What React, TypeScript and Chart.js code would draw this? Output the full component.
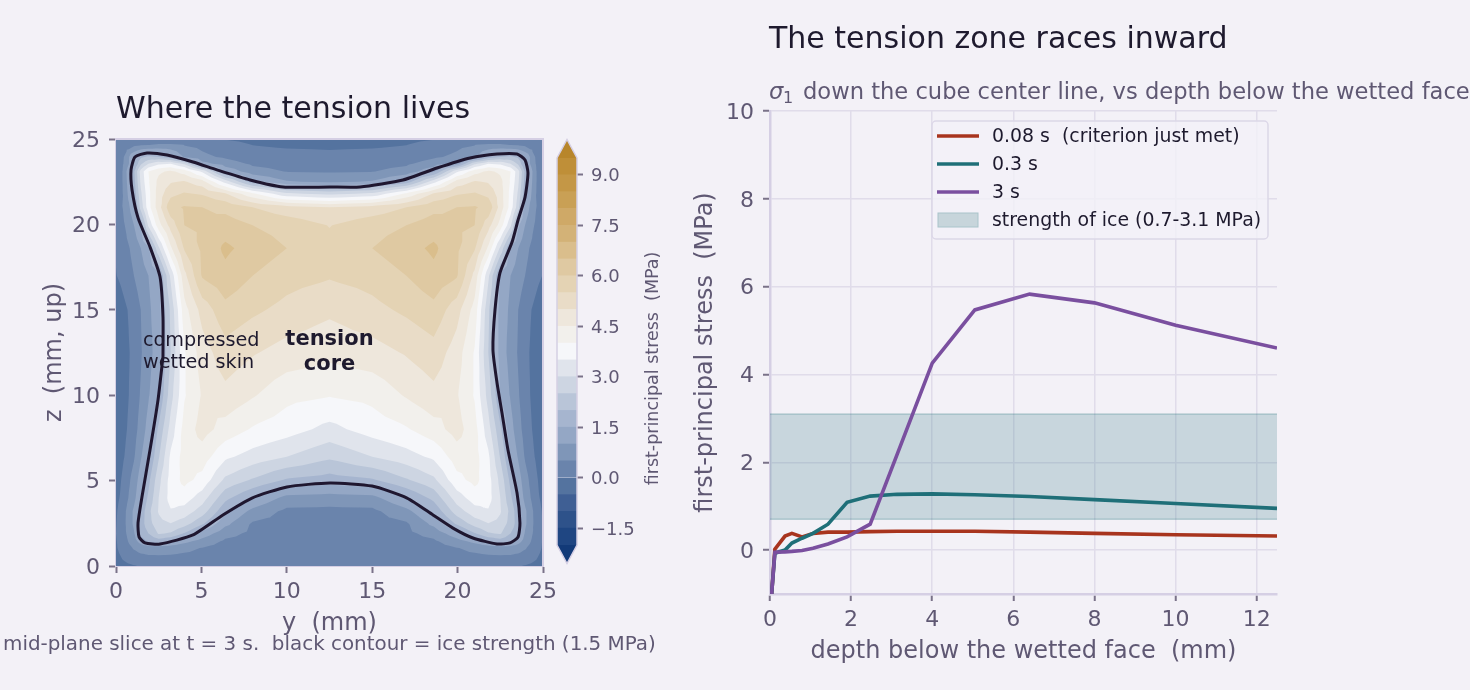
import React, { useEffect, useRef } from 'react';
import { Chart, registerables } from 'chart.js';

Chart.register(...registerables);

const FONT = '"DejaVu Sans"';
const BG = '#f3f1f7';
const INK = '#1e1a2e';
const MUTED = '#5f5873';
const TICK = '#7a7289';
const SPINE = '#d5cfe4';
const GRID = '#e0dcea';

// contour field, y = 0..12.5 half of the slice (it is mirrored about y = 12.5)
const FIELD_Y = [0, 0.3, 1.05, 1.45, 1.9, 2.5, 3.2, 4, 5.05, 6.4, 8, 10, 12.5];
const FIELD_Z = [0, 0.3, 1.05, 1.45, 1.9, 2.5, 3.2, 4, 5.05, 6.4, 8, 10, 12.5, 15, 17, 18.6, 19.95, 21, 21.8, 22.5, 23.1, 23.55, 23.95, 24.7, 25];
const FIELD = [
  [-0.2, -0.1, -0.03, 0.03, 0.1, 0.15, 0.2, 0.22, 0.22, 0.22, 0.22, 0.22, 0.22],
  [-0.15, -0.05, 0.15, 0.22, 0.28, 0.3, 0.3, 0.3, 0.28, 0.26, 0.25, 0.25, 0.25],
  [-0.05, 0.12, 0.55, 0.7, 0.75, 0.75, 0.72, 0.62, 0.48, 0.33, 0.28, 0.27, 0.27],
  [-0.03, 0.15, 0.8, 1.2, 1.6, 1.75, 1.5, 1.15, 0.8, 0.42, 0.32, 0.28, 0.28],
  [0, 0.2, 0.95, 1.7, 2.0, 2.55, 2.45, 1.95, 1.3, 0.68, 0.38, 0.31, 0.29],
  [-0.02, 0.18, 1.1, 1.75, 2.3, 2.85, 3.0, 2.75, 2.1, 1.15, 0.45, 0.34, 0.31],
  [-0.05, 0.15, 1.1, 1.65, 2.35, 3.05, 3.45, 3.3, 2.75, 1.6, 0.85, 0.38, 0.36],
  [-0.1, 0.05, 0.85, 1.45, 2.1, 3.0, 3.7, 3.75, 3.25, 2.15, 1.5, 0.85, 0.78],
  [-0.2, 0, 0.7, 1.25, 1.85, 2.85, 3.7, 4.15, 3.85, 2.9, 2.45, 1.95, 1.78],
  [-0.3, -0.15, 0.45, 0.95, 1.45, 2.45, 3.6, 4.2, 4.25, 3.6, 3.3, 3.0, 2.6],
  [-0.4, -0.25, 0.3, 0.7, 1.2, 2.1, 3.2, 4.2, 4.7, 4.3, 3.95, 3.72, 3.35],
  [-0.45, -0.3, 0.2, 0.55, 0.95, 1.5, 2.8, 3.95, 4.55, 4.85, 4.55, 4.15, 4.03],
  [-0.45, -0.3, 0.15, 0.45, 0.8, 1.3, 2.5, 3.95, 4.75, 5.3, 5.05, 4.8, 4.65],
  [-0.35, -0.2, 0.2, 0.5, 0.9, 1.3, 2.6, 4.3, 5.2, 5.85, 5.6, 5.35, 5.1],
  [-0.02, 0.1, 0.5, 0.75, 1.0, 1.4, 3.1, 4.85, 6.05, 6.35, 6.0, 5.7, 5.55],
  [0.05, 0.2, 0.65, 1.0, 1.45, 2.9, 4.4, 5.55, 6.1, 6.6, 6.3, 6.0, 5.65],
  [0.08, 0.3, 1.0, 1.6, 3.1, 4.3, 5.2, 6.0, 6.1, 6.25, 6.0, 5.8, 5.48],
  [0.12, 0.4, 1.3, 2.7, 3.8, 4.8, 5.85, 6.05, 6.0, 5.85, 5.5, 5.2, 5.0],
  [0.18, 0.33, 1.65, 2.9, 3.85, 4.75, 5.35, 5.55, 5.45, 5.05, 4.1, 3.1, 2.85],
  [0.15, 0.35, 1.8, 3.1, 3.95, 4.65, 4.95, 5.05, 4.7, 3.3, 1.7, 1.05, 0.9],
  [0.15, 0.35, 1.9, 3.2, 4.0, 4.4, 4.6, 4.3, 3.4, 1.4, 0.7, 0.48, 0.45],
  [0.14, 0.3, 1.45, 2.4, 3.0, 3.4, 3.5, 2.9, 1.2, 0.75, 0.42, 0.33, 0.3],
  [0.12, 0.25, 1.45, 1.9, 2.1, 2.0, 1.7, 0.95, 0.62, 0.42, 0.2, 0.15, 0.12],
  [0.1, 0.18, 0.3, 0.35, 0.4, 0.5, 0.5, 0.45, 0.35, 0.12, -0.02, -0.08, -0.1],
  [0.05, 0.1, 0.2, 0.25, 0.28, 0.32, 0.3, 0.28, 0.1, -0.02, -0.08, -0.12, -0.15],
];

const LEVELS = [-2, -1.5, -1, -0.5, 0, 0.5, 1, 1.5, 2, 2.5, 3, 3.5, 4, 4.5, 5, 5.5, 6, 6.5, 7, 7.5, 8, 8.5, 9, 9.5];
const BAND_COLORS = [
  '#1f4682', '#2e528a', '#3f5f94', '#54739f', '#6a84ac', '#7f96b8', '#94a7c5', '#a6b5cf',
  '#b9c5d8', '#cdd5e2', '#e0e4ec', '#f6f7fa', '#f2f0ec', '#eee7dc', '#e9dcc7', '#e4d3b4',
  '#dfc9a2', '#dabe8c', '#d3b277', '#cfa967', '#c9a055', '#c49746', '#bf8f38',
];
const UNDER_COLOR = '#123a78';
const OVER_COLOR = '#b8862b';
const CBAR_TICKS = [-1.5, 0, 1.5, 3, 4.5, 6, 7.5, 9];

// the black 1.5 MPa line, y then z in mm
const STRENGTH_Y = [2.75, 2.75, 2.58, 1.99, 1.29, 0.94, 0.88, 1.11, 1.82, 2.99, 4.51, 5.91, 7.85, 9.78, 12.53, 14.29, 16.8, 18.79, 20.73, 22.31, 23.48, 23.95, 24.12, 23.95, 23.54, 23.19, 22.48, 22.19, 22.07, 22.31, 22.6, 22.95, 23.48, 23.65, 23.54, 23.07, 22.31, 20.9, 19.73, 18.56, 17.04, 14.99, 12.53, 10.01, 7.96, 6.26, 4.51, 2.58, 1.7, 1.35, 1.29, 1.52, 1.99, 2.46, 2.75];
const STRENGTH_Z = [12.24, 14.58, 16.92, 18.68, 20.38, 22.01, 23.19, 23.95, 24.18, 24.06, 23.65, 23.19, 22.6, 22.19, 22.19, 22.19, 22.6, 23.3, 23.89, 24.12, 24.12, 23.77, 23.01, 21.6, 20.26, 18.97, 17.16, 14.99, 12.65, 10.71, 8.96, 6.79, 4.27, 2.52, 1.7, 1.35, 1.29, 1.64, 2.22, 2.99, 3.98, 4.68, 4.86, 4.63, 3.98, 2.99, 1.82, 1.29, 1.35, 1.7, 2.52, 4.04, 6.79, 9.72, 12.24];

// right panel, depth in mm and stress in MPa
const DEPTH = [0.04, 0.12, 0.37, 0.54, 0.79, 1.06, 1.43, 1.9, 2.47, 3.13, 4, 5.05, 6.4, 8, 10, 12.5];
const STRESS_008 = [-1, 0.02, 0.32, 0.38, 0.3, 0.38, 0.41, 0.41, 0.42, 0.43, 0.43, 0.43, 0.41, 0.38, 0.35, 0.32];
const STRESS_03 = [-1, -0.07, 0, 0.16, 0.27, 0.38, 0.59, 1.09, 1.23, 1.27, 1.28, 1.26, 1.22, 1.15, 1.06, 0.95];
const STRESS_3 = [-1, -0.05, -0.04, -0.03, -0.01, 0.04, 0.14, 0.3, 0.59, 2.17, 4.26, 5.47, 5.83, 5.63, 5.12, 4.6];
const STRENGTH_LOW = 0.7;
const STRENGTH_HIGH = 3.1;
const DEPTH_RANGE = [0, 12.5];

const RED = '#a8341e';
const TEAL = '#1f6f78';
const PURPLE = '#7a4f9f';

const LEGEND_ITEMS = [
  { label: '0.08 s  (criterion just met)', color: RED },
  { label: '0.3 s', color: TEAL },
  { label: '3 s', color: PURPLE },
  { label: 'strength of ice (0.7-3.1 MPa)', color: null },
];

type V = [number, number, number];

function clipAbove(poly: V[], level: number): V[] {
  const out: V[] = [];
  for (let i = 0; i < poly.length; i++) {
    const a = poly[i];
    const b = poly[(i + 1) % poly.length];
    if (a[2] >= level) out.push(a);
    if (a[2] >= level !== b[2] >= level) {
      const t = (level - a[2]) / (b[2] - a[2]);
      out.push([a[0] + (b[0] - a[0]) * t, a[1] + (b[1] - a[1]) * t, level]);
    }
  }
  return out;
}

// filled contour bands, painted low to high through the chart's own scales
const contourPlugin = {
  id: 'contourBands',
  beforeDatasetsDraw(chart: any) {
    const { ctx, chartArea, scales } = chart;
    const ys = FIELD_Y.concat(FIELD_Y.slice(0, -1).reverse().map((v) => 25 - v));
    const px = ys.map((v) => scales.x.getPixelForValue(v));
    const py = FIELD_Z.map((v) => scales.y.getPixelForValue(v));
    const rows = FIELD.map((r) => r.concat(r.slice(0, -1).reverse()));
    ctx.save();
    ctx.beginPath();
    ctx.rect(chartArea.left, chartArea.top, chartArea.width, chartArea.height);
    ctx.clip();
    BAND_COLORS.forEach((color, k) => {
      const level = LEVELS[k];
      ctx.beginPath();
      for (let j = 0; j < py.length - 1; j++) {
        for (let i = 0; i < px.length - 1; i++) {
          const a: V = [px[i], py[j], rows[j][i]];
          const b: V = [px[i + 1], py[j], rows[j][i + 1]];
          const c: V = [px[i + 1], py[j + 1], rows[j + 1][i + 1]];
          const d: V = [px[i], py[j + 1], rows[j + 1][i]];
          const m: V = [(a[0] + c[0]) / 2, (a[1] + c[1]) / 2, (a[2] + b[2] + c[2] + d[2]) / 4];
          [[a, b], [b, c], [c, d], [d, a]].forEach(([p, q]) => {
            const poly = clipAbove([p, q, m], level);
            if (poly.length < 3) return;
            ctx.moveTo(poly[0][0], poly[0][1]);
            poly.slice(1).forEach((v) => ctx.lineTo(v[0], v[1]));
            ctx.closePath();
          });
        }
      }
      ctx.fillStyle = color;
      ctx.fill();
    });
    ctx.restore();
  },
  afterDatasetsDraw(chart: any) {
    const { ctx, chartArea, scales } = chart;
    ctx.save();
    ctx.strokeStyle = SPINE;
    ctx.lineWidth = 2;
    ctx.beginPath();
    ctx.moveTo(chartArea.left, chartArea.top);
    ctx.lineTo(chartArea.right, chartArea.top);
    ctx.lineTo(chartArea.right, chartArea.bottom);
    ctx.stroke();
    ctx.fillStyle = INK;
    ctx.font = `19.2px ${FONT}`;
    ctx.fillText('compressed', scales.x.getPixelForValue(1.58), scales.y.getPixelForValue(12.9));
    ctx.fillText('wetted skin', scales.x.getPixelForValue(1.58), scales.y.getPixelForValue(11.6));
    ctx.font = `bold 21px ${FONT}`;
    ctx.textAlign = 'center';
    ctx.fillText('tension', scales.x.getPixelForValue(12.5), scales.y.getPixelForValue(12.95));
    ctx.fillText('core', scales.x.getPixelForValue(12.5), scales.y.getPixelForValue(11.5));
    ctx.textAlign = 'left';
    ctx.fillStyle = INK;
    ctx.font = `30px ${FONT}`;
    ctx.fillText('Where the tension lives', 116, 118);
    ctx.fillStyle = MUTED;
    ctx.font = `19.9px ${FONT}`;
    ctx.fillText('mid-plane slice at t = 3 s.  black contour = ice strength (1.5 MPa)', 3, 650);
    ctx.restore();
  },
};

const colorbarPlugin = {
  id: 'colorbarExtras',
  afterDatasetsDraw(chart: any) {
    const { ctx, chartArea, scales } = chart;
    const top = scales.y.getPixelForValue(LEVELS[LEVELS.length - 1]);
    const bottom = scales.y.getPixelForValue(LEVELS[0]);
    const { left, right } = chartArea;
    const mid = (left + right) / 2;
    ctx.save();
    ctx.fillStyle = OVER_COLOR;
    ctx.beginPath();
    ctx.moveTo(left, top);
    ctx.lineTo(mid, top - 18.5);
    ctx.lineTo(right, top);
    ctx.closePath();
    ctx.fill();
    ctx.fillStyle = UNDER_COLOR;
    ctx.beginPath();
    ctx.moveTo(left, bottom);
    ctx.lineTo(mid, bottom + 18.5);
    ctx.lineTo(right, bottom);
    ctx.closePath();
    ctx.fill();
    ctx.strokeStyle = SPINE;
    ctx.lineWidth = 1.5;
    ctx.beginPath();
    ctx.moveTo(left, top);
    ctx.lineTo(mid, top - 18.5);
    ctx.lineTo(right, top);
    ctx.lineTo(right, bottom);
    ctx.lineTo(mid, bottom + 18.5);
    ctx.lineTo(left, bottom);
    ctx.closePath();
    ctx.stroke();
    ctx.translate(153, 368.5);
    ctx.rotate(-Math.PI / 2);
    ctx.fillStyle = MUTED;
    ctx.font = `17.5px ${FONT}`;
    ctx.textAlign = 'center';
    ctx.textBaseline = 'middle';
    ctx.fillText('first-principal stress  (MPa)', 0, 0);
    ctx.restore();
  },
};

const linePanelPlugin = {
  id: 'linePanelExtras',
  afterDatasetsDraw(chart: any) {
    const { ctx } = chart;
    ctx.save();
    ctx.fillStyle = INK;
    ctx.font = `30px ${FONT}`;
    ctx.fillText('The tension zone races inward', 89, 48);
    ctx.fillStyle = MUTED;
    ctx.font = `italic 22.6px ${FONT}`;
    ctx.fillText('σ', 89, 99);
    ctx.font = `16px ${FONT}`;
    ctx.fillText('1', 103, 103);
    ctx.font = `22.6px ${FONT}`;
    ctx.fillText('down the cube center line, vs depth below the wetted face', 123, 99);

    // legend box
    const x0 = 252;
    const y0 = 121;
    const w = 336;
    const h = 118;
    ctx.fillStyle = 'rgba(243,241,247,0.8)';
    ctx.strokeStyle = '#dcd7e8';
    ctx.lineWidth = 1.5;
    ctx.beginPath();
    ctx.roundRect(x0, y0, w, h, 4);
    ctx.fill();
    ctx.stroke();
    ctx.font = `18.9px ${FONT}`;
    ctx.textBaseline = 'middle';
    LEGEND_ITEMS.forEach((item, i) => {
      const y = y0 + 15 + i * 28;
      if (item.color) {
        ctx.strokeStyle = item.color;
        ctx.lineWidth = 3.6;
        ctx.beginPath();
        ctx.moveTo(x0 + 5, y);
        ctx.lineTo(x0 + 47, y);
        ctx.stroke();
      } else {
        ctx.fillStyle = '#c7d5db';
        ctx.strokeStyle = '#a9c4ca';
        ctx.lineWidth = 1;
        ctx.fillRect(x0 + 6, y - 7, 40, 14);
        ctx.strokeRect(x0 + 6, y - 7, 40, 14);
      }
      ctx.fillStyle = INK;
      ctx.fillText(item.label, x0 + 60, y + 1);
    });
    ctx.restore();
  },
};

const tickFont = { family: FONT, size: 22 };
const axisTitle = (text: string) => ({
  display: true,
  text,
  color: MUTED,
  font: { family: FONT, size: 24 },
  padding: { top: 4, bottom: 4 },
});

export default function App() {
  const leftRef = useRef<HTMLCanvasElement>(null);
  const barRef = useRef<HTMLCanvasElement>(null);
  const rightRef = useRef<HTMLCanvasElement>(null);

  useEffect(() => {
    if (!leftRef.current || !barRef.current || !rightRef.current) return;

    const left = new Chart(leftRef.current, {
      type: 'scatter',
      data: {
        datasets: [
          {
            label: 'ice strength',
            data: STRENGTH_Y.map((y, i) => ({ x: y, y: STRENGTH_Z[i] })),
            showLine: true,
            borderColor: '#1f1730',
            borderWidth: 3,
            pointRadius: 0,
            tension: 0.2,
          },
        ],
      },
      options: {
        responsive: false,
        animation: false,
        layout: { padding: { left: 36, right: 137, top: 139, bottom: 48 } },
        plugins: { legend: { display: false }, tooltip: { enabled: false } },
        scales: {
          x: {
            min: 0,
            max: 25,
            ticks: { stepSize: 5, color: MUTED, font: tickFont, padding: 6, maxRotation: 0 },
            grid: { drawOnChartArea: false, tickLength: 7, tickColor: TICK, tickWidth: 2 },
            border: { color: SPINE, width: 2 },
            title: axisTitle('y  (mm)'),
            afterFit: (s: any) => { s.height = 76; },
          },
          y: {
            min: 0,
            max: 25,
            ticks: { stepSize: 5, color: MUTED, font: tickFont, padding: 9, labelOffset: 2 },
            grid: { drawOnChartArea: false, tickLength: 7, tickColor: TICK, tickWidth: 2 },
            border: { color: SPINE, width: 2 },
            title: axisTitle('z  (mm, up)'),
            afterFit: (s: any) => { s.width = 80; },
          },
        },
      },
      plugins: [contourPlugin],
    });

    const bar = new Chart(barRef.current, {
      type: 'bar',
      data: {
        labels: ['stress'],
        datasets: BAND_COLORS.map((color, k) => ({
          label: `${LEVELS[k]}`,
          data: [[LEVELS[k], LEVELS[k + 1]]],
          backgroundColor: color,
          grouped: false,
          barPercentage: 1,
          categoryPercentage: 1,
        })) as any,
      },
      options: {
        responsive: false,
        animation: false,
        layout: { padding: { left: 57, right: 43, top: 158, bottom: 145 } },
        plugins: { legend: { display: false }, tooltip: { enabled: false } },
        scales: {
          x: { display: false },
          y: {
            position: 'right',
            min: LEVELS[0],
            max: LEVELS[LEVELS.length - 1],
            ticks: {
              stepSize: 1.5,
              includeBounds: false,
              color: MUTED,
              font: { family: FONT, size: 18 },
              padding: 8,
              labelOffset: 2,
              callback: (v: any) => (CBAR_TICKS.includes(v) ? Number(v).toFixed(1).replace('-', '−') : ''),
            },
            grid: { drawOnChartArea: false, tickLength: 6, tickColor: TICK, tickWidth: 2 },
            border: { display: false },
            afterFit: (s: any) => { s.width = 60; },
          },
        },
      },
      plugins: [colorbarPlugin],
    });

    const right = new Chart(rightRef.current, {
      type: 'scatter',
      data: {
        datasets: [
          {
            label: LEGEND_ITEMS[0].label,
            data: DEPTH.map((x, i) => ({ x, y: STRESS_008[i] })),
            showLine: true,
            borderColor: RED,
            borderWidth: 3.6,
            pointRadius: 0,
            order: 3,
          },
          {
            label: LEGEND_ITEMS[1].label,
            data: DEPTH.map((x, i) => ({ x, y: STRESS_03[i] })),
            showLine: true,
            borderColor: TEAL,
            borderWidth: 3.6,
            pointRadius: 0,
            order: 2,
          },
          {
            label: LEGEND_ITEMS[2].label,
            data: DEPTH.map((x, i) => ({ x, y: STRESS_3[i] })),
            showLine: true,
            borderColor: PURPLE,
            borderWidth: 3.6,
            pointRadius: 0,
            order: 1,
          },
          {
            label: LEGEND_ITEMS[3].label,
            data: DEPTH_RANGE.map((x) => ({ x, y: STRENGTH_HIGH })),
            showLine: true,
            borderColor: 'rgba(31,111,120,0.25)',
            backgroundColor: 'rgba(31,111,120,0.2)',
            borderWidth: 1.5,
            pointRadius: 0,
            fill: '+1',
            order: 5,
          },
          {
            label: 'strength low edge',
            data: DEPTH_RANGE.map((x) => ({ x, y: STRENGTH_LOW })),
            showLine: true,
            borderColor: 'rgba(31,111,120,0.25)',
            borderWidth: 1.5,
            pointRadius: 0,
            order: 5,
          },
        ],
      },
      options: {
        responsive: false,
        animation: false,
        layout: { padding: { left: 7, right: 193, top: 111, bottom: 20 } },
        plugins: { legend: { display: false }, tooltip: { enabled: false } },
        scales: {
          x: {
            min: 0,
            max: 12.5,
            ticks: { stepSize: 2, includeBounds: false, color: MUTED, font: tickFont, padding: 6, maxRotation: 0 },
            grid: { color: GRID, lineWidth: 1.5, tickLength: 7, tickColor: TICK, tickWidth: 2 },
            border: { color: SPINE, width: 2.5 },
            title: axisTitle('depth below the wetted face  (mm)'),
            afterFit: (s: any) => { s.height = 76; },
          },
          y: {
            min: -1,
            max: 10,
            ticks: { stepSize: 2, includeBounds: false, color: MUTED, font: tickFont, padding: 9, labelOffset: 2 },
            grid: { color: GRID, lineWidth: 1.5, tickLength: 7, tickColor: TICK, tickWidth: 2 },
            border: { color: SPINE, width: 2.5 },
            title: axisTitle('first-principal stress  (MPa)'),
            afterFit: (s: any) => { s.width = 83; },
          },
        },
      },
      plugins: [linePanelPlugin],
    });

    return () => {
      left.destroy();
      bar.destroy();
      right.destroy();
    };
  }, []);

  return (
    <div style={{ position: 'fixed', left: 0, top: 0, width: 1470, height: 690, background: BG, overflow: 'hidden' }}>
      <canvas ref={leftRef} width={680} height={690} style={{ position: 'absolute', left: 0, top: 0 }} />
      <canvas ref={barRef} width={180} height={690} style={{ position: 'absolute', left: 500, top: 0 }} />
      <canvas ref={rightRef} width={790} height={690} style={{ position: 'absolute', left: 680, top: 0 }} />
    </div>
  );
}
